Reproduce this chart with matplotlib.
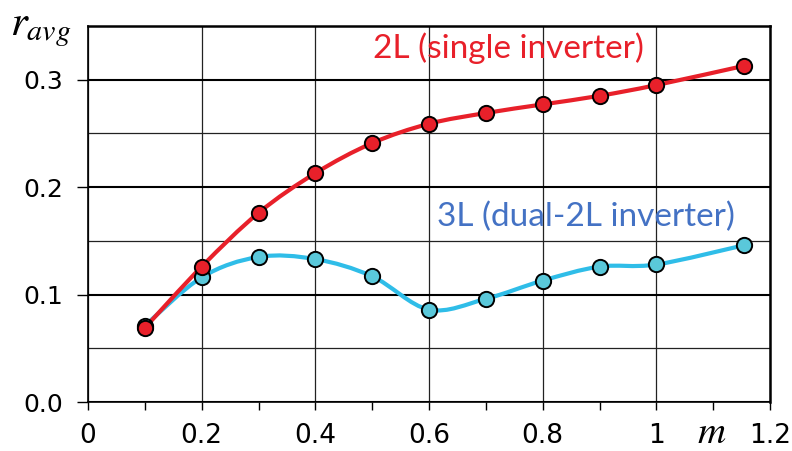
import numpy as np
import matplotlib
matplotlib.use('Agg')
import matplotlib.pyplot as plt
from matplotlib.path import Path
from matplotlib.patches import PathPatch
from matplotlib.ticker import MultipleLocator, FixedLocator

plt.rcParams['mathtext.fontset'] = 'stix'

# modulation index and average ripple values
m_vals = [0.1, 0.2, 0.3, 0.4, 0.5, 0.6, 0.7, 0.8, 0.9, 1.0, 1.155]
r_2l = [0.069, 0.126, 0.176, 0.213, 0.241, 0.259, 0.269, 0.277, 0.285, 0.295, 0.313]
r_3l = [0.071, 0.116, 0.135, 0.133, 0.117, 0.086, 0.096, 0.113, 0.126, 0.128, 0.146]

xtick_pos = [0, 0.2, 0.4, 0.6, 0.8, 1.0, 1.2]
xtick_lab = ['0', '0.2', '0.4', '0.6', '0.8', '1', '1.2']
ytick_pos = [0.0, 0.1, 0.2, 0.3]
ytick_lab = ['0.0', '0.1', '0.2', '0.3']

RED = '#e8202a'
CYAN = '#2fbde8'
CYAN_FACE = '#5ac8da'
BLUE_TXT = '#4472c4'


def smooth_path(x, y):
    # Catmull-Rom through the points, written as cubic Bezier segments
    p = np.column_stack([x, y]).astype(float)
    p_ext = np.vstack([p[0], p, p[-1]])
    verts = [p[0]]
    codes = [Path.MOVETO]
    for i in range(1, len(p_ext) - 2):
        p0, p1, p2, p3 = p_ext[i - 1], p_ext[i], p_ext[i + 1], p_ext[i + 2]
        c1 = p1 + (p2 - p0) / 6.0
        c2 = p2 - (p3 - p1) / 6.0
        verts += [c1, c2, p2]
        codes += [Path.CURVE4] * 3
    return Path(verts, codes)


fig = plt.figure(figsize=(7.92, 4.51), dpi=100)
ax = fig.add_axes([88 / 792, 1 - 402 / 451, (770 - 88) / 792, (402 - 26) / 451])

ax.set_xlim(0, 1.2)
ax.set_ylim(0, 0.35)

# grid
ax.xaxis.set_major_locator(FixedLocator(xtick_pos))
ax.xaxis.set_minor_locator(MultipleLocator(0.1))
ax.yaxis.set_major_locator(FixedLocator(ytick_pos))
ax.yaxis.set_minor_locator(FixedLocator([0.05, 0.15, 0.25]))
ax.set_xticklabels(xtick_lab)
ax.set_yticklabels(ytick_lab)
ax.grid(True, axis='x', which='major', color='#222222', lw=0.9, zorder=0)
ax.grid(True, axis='y', which='major', color='black', lw=1.5, zorder=0)
ax.grid(True, axis='y', which='minor', color='#222222', lw=0.9, zorder=0)
ax.axhline(0.35, color='black', lw=1.4)

ax.tick_params(axis='x', which='both', direction='out', length=6, width=1,
               labelsize=19, pad=9, color='black')
ax.tick_params(axis='y', which='major', direction='out', length=8, width=1,
               labelsize=18, pad=10)
ax.tick_params(axis='y', which='minor', length=0)
for s in ax.spines.values():
    s.set_color('black')
    s.set_linewidth(1.2)
ax.spines['right'].set_linewidth(1.8)
ax.spines['top'].set_linewidth(1.8)

# curves
for yv, lc, fc in [(r_3l, CYAN, CYAN_FACE), (r_2l, RED, RED)]:
    ax.add_patch(PathPatch(smooth_path(m_vals, yv), fill=False, edgecolor=lc,
                           lw=3.0, zorder=3))
    ax.plot(m_vals, yv, ls='none', marker='o', ms=11, mfc=fc, mec='black',
            mew=1.4, zorder=4)

ax.text(0.739, 0.329, '2L (single inverter)', color=RED, fontsize=24,
        family='Lato', ha='center', va='center')
ax.text(0.876, 0.172, '3L (dual-2L inverter)', color=BLUE_TXT, fontsize=24,
        family='Lato', ha='center', va='center')

fig.text(10 / 792, 1 - 28 / 451, r'$r_{avg}$', fontsize=31, ha='left', va='center')
fig.text(697 / 792, 1 - 443 / 451, r'$m$', fontsize=28, ha='left', va='baseline')

fig.savefig('out.png', dpi=100, facecolor='white')
